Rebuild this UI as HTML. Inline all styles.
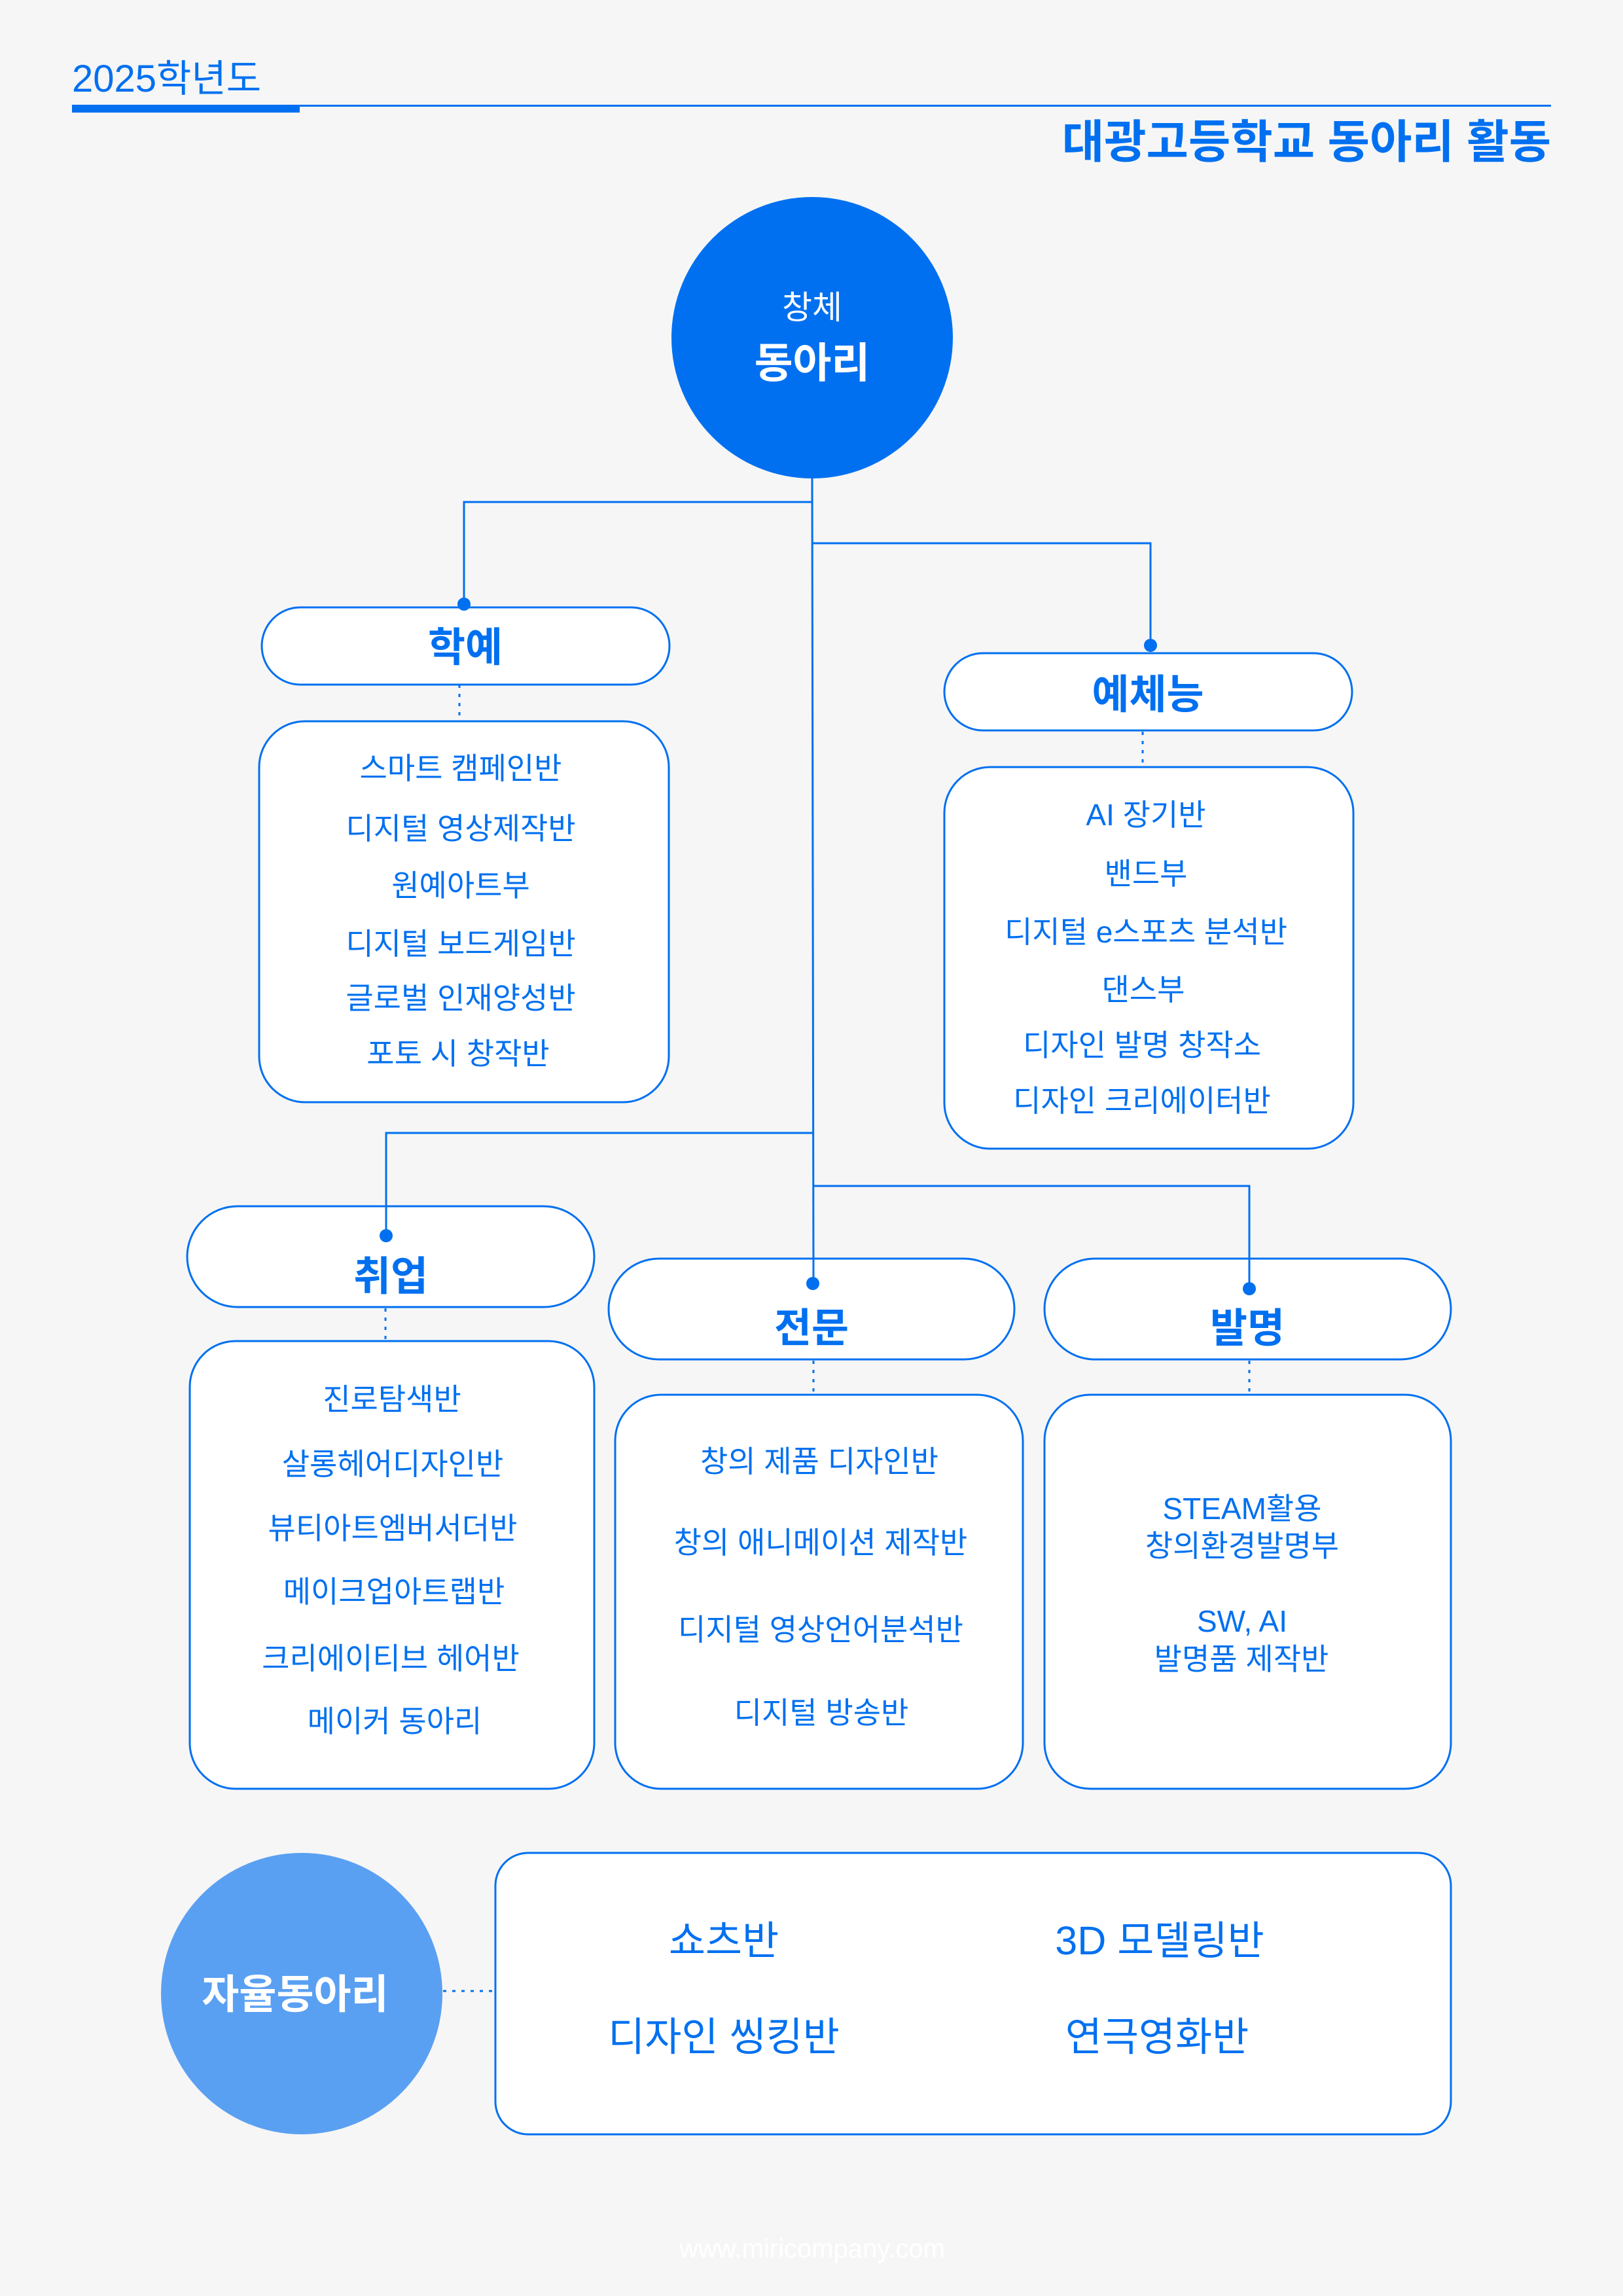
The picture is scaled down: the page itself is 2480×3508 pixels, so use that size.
<!DOCTYPE html>
<html><head><meta charset="utf-8"><style>
html,body{margin:0;padding:0;background:#f6f6f6;}
svg{display:block;}
text{font-family:"Liberation Sans","Noto Sans CJK KR",sans-serif;}
</style></head><body>
<svg width="2480" height="3508" viewBox="0 0 2480 3508" xmlns="http://www.w3.org/2000/svg">
<rect width="2480" height="3508" fill="#f6f6f6"/>
<text x="110" y="140" font-size="58" fill="#0070f0">2025학년도</text>
<rect x="110" y="160" width="2260" height="3" fill="#0070f0"/>
<rect x="110" y="160" width="348" height="12" fill="#0070f0"/>
<text x="2370" y="241" text-anchor="end" font-size="70" font-weight="bold" fill="#0070f0">대광고등학교 동아리 활동</text>

<circle cx="1241" cy="516" r="215" fill="#0070f0"/>
<text x="1241" y="470" text-anchor="middle" dominant-baseline="central" font-size="50" fill="#fff">창체</text>
<text x="1241" y="555" text-anchor="middle" dominant-baseline="central" font-size="64" font-weight="bold" fill="#fff">동아리</text>

<g fill="#fff" stroke="#0070f0" stroke-width="3">
<rect x="400" y="928" width="623" height="118" rx="59"/>
<rect x="1443" y="998" width="623" height="118" rx="59"/>
<rect x="286" y="1843" width="622" height="154" rx="77"/>
<rect x="930" y="1923" width="620" height="154" rx="77"/>
<rect x="1596" y="1923" width="621" height="154" rx="77"/>
<rect x="396" y="1102" width="626" height="582" rx="70"/>
<rect x="1443" y="1172" width="625" height="583" rx="70"/>
<rect x="290" y="2049" width="618" height="684" rx="70"/>
<rect x="940" y="2131" width="623" height="602" rx="70"/>
<rect x="1596" y="2131" width="621" height="602" rx="70"/>
<rect x="757" y="2831" width="1460" height="430" rx="50"/>
</g>

<g stroke="#0070f0" stroke-width="3" fill="none">
<polyline points="1241,731 1241,767 709,767 709,921"/>
<polyline points="1241,830 1758,830 1758,984"/>
<line x1="1241" y1="731" x2="1243" y2="1961"/>
<polyline points="1242,1731 590,1731 590,1888"/>
<polyline points="1242,1812 1909,1812 1909,1969"/>
</g>
<g stroke="#0070f0" stroke-width="3" stroke-dasharray="5,9" fill="none">
<line x1="702" y1="1046" x2="702" y2="1100"/>
<line x1="1746" y1="1118" x2="1746" y2="1170"/>
<line x1="589" y1="1999" x2="589" y2="2047"/>
<line x1="1243" y1="2079" x2="1243" y2="2129"/>
<line x1="1909" y1="2079" x2="1909" y2="2129"/>
<line x1="677" y1="3042" x2="752" y2="3042"/>
</g>
<g fill="#0070f0">
<circle cx="709" cy="923" r="10"/>
<circle cx="1758" cy="986" r="10"/>
<circle cx="590" cy="1888" r="10"/>
<circle cx="1242" cy="1961" r="10"/>
<circle cx="1909" cy="1969" r="10"/>
</g>

<g fill="#0070f0" text-anchor="middle" dominant-baseline="central" font-weight="bold" font-size="62">
<text x="711" y="990">학예</text>
<text x="1754" y="1062">예체능</text>
<text x="597" y="1951">취업</text>
<text x="1240" y="2030">전문</text>
<text x="1906" y="2030">발명</text>
</g>

<g fill="#0070f0" text-anchor="middle" dominant-baseline="central" font-size="46">
<text x="704" y="1174">스마트 캠페인반</text>
<text x="704" y="1266">디지털 영상제작반</text>
<text x="704" y="1353">원예아트부</text>
<text x="704" y="1442">디지털 보드게임반</text>
<text x="704" y="1525">글로벌 인재양성반</text>
<text x="700" y="1610">포토 시 창작반</text>

<text x="1751" y="1245">AI 장기반</text>
<text x="1751" y="1335">밴드부</text>
<text x="1751" y="1424">디지털 e스포츠 분석반</text>
<text x="1747" y="1512">댄스부</text>
<text x="1745" y="1597">디자인 발명 창작소</text>
<text x="1745" y="1682">디자인 크리에이터반</text>

<text x="599" y="2138">진로탐색반</text>
<text x="600" y="2237">살롱헤어디자인반</text>
<text x="600" y="2335">뷰티아트엠버서더반</text>
<text x="602" y="2432">메이크업아트랩반</text>
<text x="597" y="2534">크리에이티브 헤어반</text>
<text x="603" y="2630">메이커 동아리</text>

<text x="1252" y="2233">창의 제품 디자인반</text>
<text x="1254" y="2357">창의 애니메이션 제작반</text>
<text x="1254" y="2490">디지털 영상언어분석반</text>
<text x="1255" y="2617">디지털 방송반</text>

<text x="1898" y="2305">STEAM활용</text>
<text x="1898" y="2362">창의환경발명부</text>
<text x="1898" y="2477">SW, AI</text>
<text x="1897" y="2535">발명품 제작반</text>
</g>

<circle cx="461" cy="3046" r="215" fill="#5aa0f2"/>
<text x="451" y="3048" text-anchor="middle" dominant-baseline="central" font-size="62" font-weight="bold" fill="#fff">자율동아리</text>

<g fill="#0070f0" text-anchor="middle" dominant-baseline="central" font-size="61">
<text x="1106" y="2965">쇼츠반</text>
<text x="1772" y="2965">3D 모델링반</text>
<text x="1106" y="3112">디자인 씽킹반</text>
<text x="1768" y="3112">연극영화반</text>
</g>

<text x="1241" y="3436" text-anchor="middle" dominant-baseline="central" font-size="40" fill="#ffffff">www.miricompany.com</text>
</svg>
</body></html>
